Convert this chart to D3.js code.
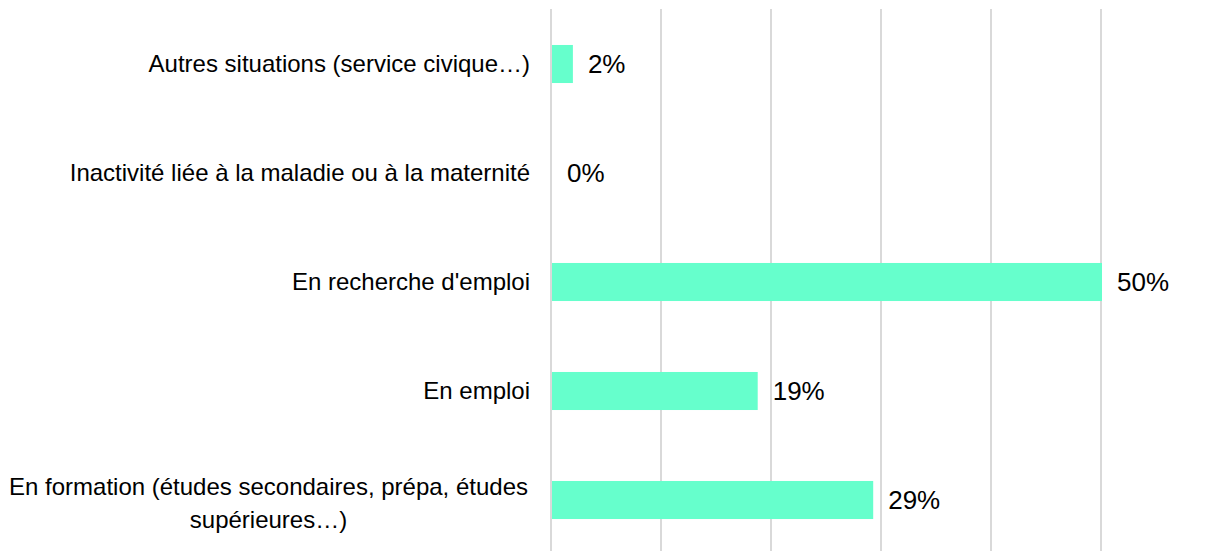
<!DOCTYPE html>
<html>
<head>
<meta charset="utf-8">
<script src="https://cdn.jsdelivr.net/npm/d3@7"></script>
<style>
  html, body { margin: 0; padding: 0; background: #fff; }
  svg { display: block; font-family: "Liberation Sans", Arial, sans-serif; }
</style>
</head>
<body>
<svg id="chart" width="1217" height="551"></svg>
<script>
const categories = [
  ["Autres situations (service civique…)"],
  ["Inactivité liée à la maladie ou à la maternité"],
  ["En recherche d'emploi"],
  ["En emploi"],
  ["En formation (études secondaires, prépa, études", "supérieures…)"]
];
const values = [1.9, 0, 50, 18.7, 29.2];
const xTicks = [0, 10, 20, 30, 40, 50];

const svg = d3.select("#chart");
const x = d3.scaleLinear().domain([0, 50]).range([551, 1101]);
const y = d3.scaleBand()
  .domain(d3.range(categories.length))
  .range([9.5, 554.5])
  .paddingInner(0.651)
  .paddingOuter(0.3255);

// gridlines
svg.append("g").selectAll("line")
  .data(xTicks).join("line")
  .attr("x1", d => x(d)).attr("x2", d => x(d))
  .attr("y1", 9).attr("y2", 551)
  .attr("stroke", "#d9d9d9").attr("stroke-width", 2);

// bars
svg.append("g").selectAll("rect")
  .data(values).join("rect")
  .attr("x", x(0) + 1)
  .attr("y", (d, i) => y(i))
  .attr("width", d => x(d) - x(0))
  .attr("height", y.bandwidth())
  .attr("fill", "#66ffcc");

// value labels
const fmt = d3.format(".0f");
svg.append("g").selectAll("text")
  .data(values).join("text")
  .attr("x", d => x(d) + 16)
  .attr("y", (d, i) => y(i) + y.bandwidth() / 2)
  .attr("dy", "0.36em")
  .attr("font-size", 26)
  .attr("fill", "#000")
  .text(d => fmt(d) + "%");

// category labels
const labelRight = 530;
const lg = svg.append("g");
categories.forEach((lines, i) => {
  const cy = y(i) + y.bandwidth() / 2;
  if (lines.length === 1) {
    lg.append("text")
      .attr("x", labelRight)
      .attr("y", cy)
      .attr("dy", "0.35em")
      .attr("text-anchor", "end")
      .attr("font-size", 24)
      .attr("fill", "#000")
      .text(lines[0]);
  } else {
    const t1 = lg.append("text")
      .attr("x", labelRight - 2)
      .attr("y", cy - 5)
      .attr("text-anchor", "end")
      .attr("font-size", 24)
      .attr("fill", "#000")
      .text(lines[0]);
    const w = t1.node().getComputedTextLength();
    const mid = labelRight - 2 - w / 2;
    t1.attr("x", mid).attr("text-anchor", "middle");
    lg.append("text")
      .attr("x", mid)
      .attr("y", cy + 28)
      .attr("text-anchor", "middle")
      .attr("font-size", 24)
      .attr("fill", "#000")
      .text(lines[1]);
  }
});
</script>
</body>
</html>
